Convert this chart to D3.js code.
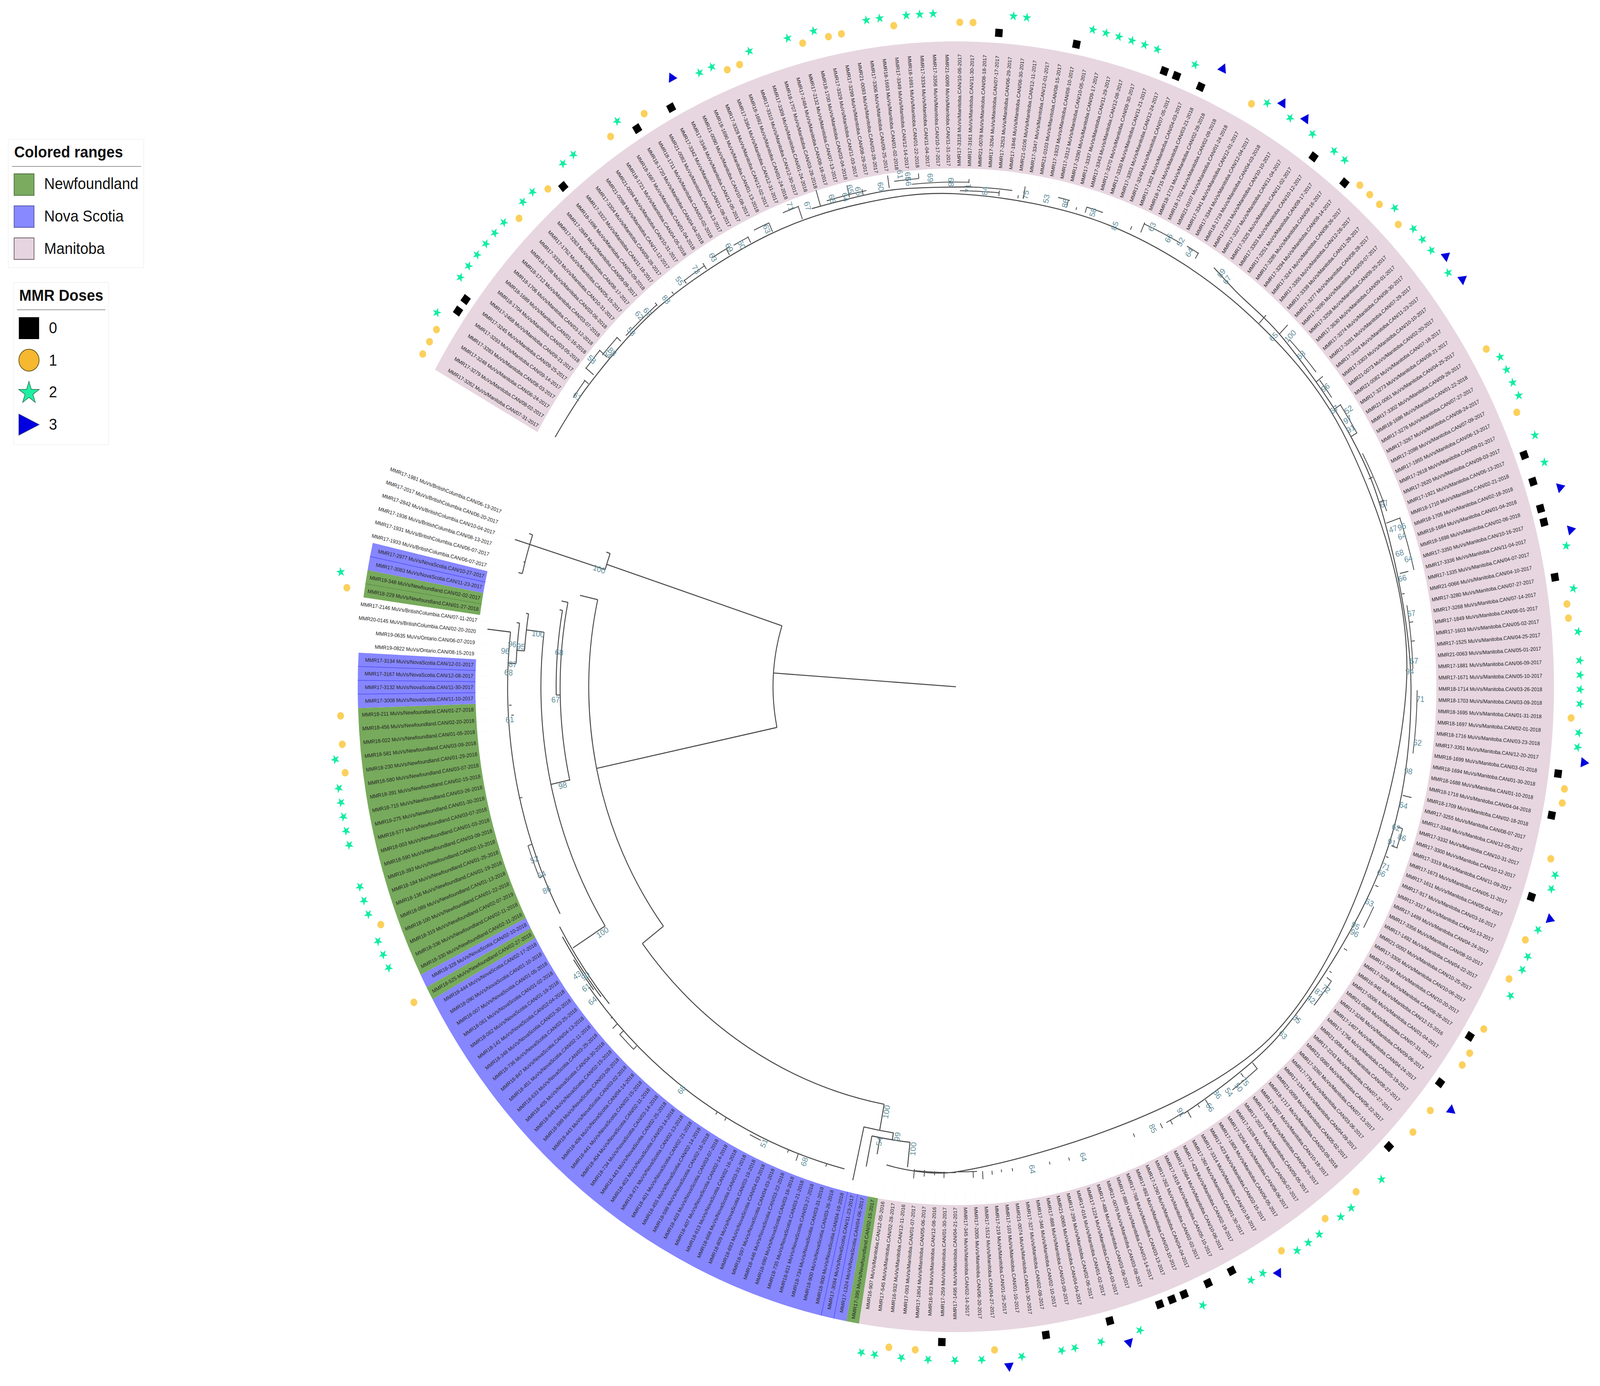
<!DOCTYPE html>
<html lang="en">
<head>
  <meta charset="UTF-8">
  <title>Mumps phylogeny</title>
  <script src="https://cdn.jsdelivr.net/npm/d3@7/dist/d3.min.js"></script>
  <style>
    html, body { margin: 0; padding: 0; width: 100%; height: 100%; background: #fff; overflow: hidden; }
    svg { display: block; }
    text { font-family: "Liberation Sans", Arial, sans-serif; }
  </style>
</head>
<body>
<svg id="tree"></svg>
<script>
// leaves in clockwise order, "id date"
const manitobaLeaves = ["MMR17-3262 07-31-2017","MMR17-3279 08-02-2017","MMR17-3248 06-24-2017","MMR17-3283 08-03-2017","MMR17-3293 09-14-2017","MMR17-3245 09-25-2017","MMR17-2468 09-21-2017","MMR18-1704 03-05-2018","MMR18-1689 01-16-2018","MMR18-1706 03-12-2018","MMR18-1712 03-07-2018","MMR18-1708 03-06-2018","MMR17-3333 10-31-2017","MMR17-1752 05-15-2017","MMR17-3263 08-17-2017","MMR17-2849 09-09-2017","MMR18-1696 02-09-2018","MMR17-3322 11-18-2017","MMR17-3304 09-28-2017","MMR21-0098 11-12-2017","MMR21-0094 10-31-2017","MMR18-1721 04-05-2018","MMR18-1687 01-04-2018","MMR18-1720 04-04-2018","MMR18-1711 03-02-2018","MMR21-0082 09-13-2017","MMR17-3342 11-08-2017","MMR17-3346 12-05-2017","MMR21-0090 10-08-2017","MMR18-1690 01-13-2018","MMR17-3328 12-02-2017","MMR17-3364 12-31-2017","MMR18-1692 01-24-2018","MMR17-3310 12-30-2017","MMR17-3309 01-24-2018","MMR18-1707 03-28-2018","MMR17-2484 08-18-2017","MMR17-2132 07-13-2017","MMR18-1700 03-04-2018","MMR17-3329 11-03-2017","MMR17-3299 08-29-2017","MMR21-0093 03-28-2017","MMR17-3306 09-25-2017","MMR18-1693 01-02-2018","MMR17-3349 12-14-2017","MMR18-1691 01-22-2018","MMR17-3334 11-04-2017","MMR17-3356 10-17-2017","MMR21-0099 11-31-2017","MMR17-3318 10-06-2017","MMR17-3161 11-30-2017","MMR21-0078 08-18-2017","MMR17-3264 07-17-2017","MMR17-3253 06-29-2017","MMR17-1846 06-30-2017","MMR21-0106 12-11-2017","MMR17-3347 12-01-2017","MMR21-0103 08-15-2017","MMR17-1923 08-10-2017","MMR17-3312 10-05-2017","MMR17-3290 09-17-2017","MMR17-3337 11-29-2017","MMR17-3343 12-08-2017","MMR17-3270 09-30-2017","MMR17-3330 11-21-2017","MMR17-3353 12-24-2017","MMR17-3249 07-05-2017","MMR17-1302 04-03-2017","MMR18-1715 03-21-2018","MMR18-1713 02-28-2018","MMR18-1702 02-09-2018","MMR21-0107 01-24-2018","MMR17-3341 12-01-2017","MMR17-3344 12-04-2017","MMR18-1719 04-03-2018","MMR17-3313 10-10-2017","MMR17-3327 11-04-2017","MMR17-3325 11-02-2017","MMR17-3303 10-12-2017","MMR17-3251 09-17-2017","MMR17-3285 09-16-2017","MMR17-3294 09-14-2017","MMR17-3247 08-26-2017","MMR17-3355 12-26-2017","MMR17-3339 11-29-2017","MMR17-3277 08-28-2017","MMR17-2690 09-07-2017","MMR17-3258 09-25-2017","MMR17-3630 09-01-2017","MMR17-3274 08-30-2017","MMR17-3281 07-29-2017","MMR17-3324 11-23-2017","MMR17-3303 10-10-2017","MMR21-0073 02-20-2017","MMR21-0082 07-18-2017","MMR17-3273 08-21-2017","MMR21-0061 04-25-2017","MMR17-3302 09-26-2017","MMR18-1686 01-22-2018","MMR17-3276 07-27-2017","MMR17-3267 08-24-2017","MMR17-2098 07-09-2017","MMR17-1955 06-13-2017","MMR17-2618 09-01-2017","MMR17-2620 09-03-2017","MMR17-1921 06-13-2017","MMR18-1710 02-21-2018","MMR18-1705 02-18-2018","MMR18-1684 01-04-2018","MMR18-1698 02-06-2018","MMR17-3350 10-16-2017","MMR17-3336 11-04-2017","MMR17-1335 04-07-2017","MMR21-0066 04-10-2017","MMR17-3280 07-27-2017","MMR17-3268 07-14-2017","MMR17-1849 06-01-2017","MMR17-1603 05-02-2017","MMR17-1525 04-25-2017","MMR21-0063 05-01-2017","MMR17-1881 06-09-2017","MMR17-1671 05-10-2017","MMR18-1714 03-26-2018","MMR18-1703 03-09-2018","MMR18-1695 01-31-2018","MMR18-1697 02-01-2018","MMR18-1716 03-23-2018","MMR17-3351 12-20-2017","MMR18-1699 03-01-2018","MMR18-1694 01-30-2018","MMR18-1688 01-10-2018","MMR18-1718 04-04-2018","MMR18-1709 02-18-2018","MMR17-3255 08-07-2017","MMR17-3348 12-05-2017","MMR17-3332 10-31-2017","MMR17-3300 10-12-2017","MMR17-3319 11-09-2017","MMR17-1673 05-11-2017","MMR17-1611 05-04-2017","MMR17-917 03-16-2017","MMR17-3317 10-13-2017","MMR17-1499 04-24-2017","MMR17-3356 08-10-2017","MMR17-1492 04-22-2017","MMR21-0092 10-25-2017","MMR17-3305 10-06-2017","MMR17-3297 10-20-2017","MMR17-3258 08-26-2017","MMR16-945 12-15-2016","MMR17-0006 01-04-2017","MMR21-0085 07-31-2017","MMR17-3246 09-06-2017","MMR17-1407 04-24-2017","MMR17-1756 05-19-2017","MMR21-0084 08-27-2017","MMR17-2243 07-27-2017","MMR21-0080 06-22-2017","MMR17-3260 07-13-2017","MMR17-779 03-06-2017","MMR17-1341 04-09-2017","MMR21-0059 05-02-2017","MMR18-1717 03-09-2018","MMR17-3307 10-18-2017","MMR17-3309 09-25-2017","MMR17-2027 09-05-2017","MMR17-1928 06-07-2017","MMR17-3256 08-06-2017","MMR17-1805 06-05-2017","MMR17-423 02-15-2017","MMR17-3314 10-18-2017","MMR17-260 01-30-2017","MMR17-429 02-19-2017","MMR17-2684 10-06-2017","MMR17-1616 05-10-2017","MMR17-262 02-02-2017","MMR17-1290 04-04-2017","MMR17-892 03-10-2017","MMR17-768 03-13-2017","MMR17-880 03-14-2017","MMR21-0070 03-08-2017","MMR17-488 03-06-2017","MMR17-1224 04-03-2017","MMR17-016 01-02-2017","MMR17-299 02-06-2017","MMR21-0065 04-04-2017","MMR17-888 03-09-2017","MMR17-346 02-10-2017","MMR17-327 02-08-2017","MMR21-0074 01-30-2017","MMR17-103 01-10-2017","MMR17-219 01-25-2017","MMR17-1512 04-27-2017","MMR17-2005 06-20-2017","MMR17-345 02-14-2017","MMR17-1495 04-21-2017","MMR17-259 01-30-2017","MMR16-923 12-08-2016","MMR17-1804 05-06-2017","MMR17-093 01-07-2017","MMR16-932 12-11-2016","MMR17-545 02-28-2017","MMR16-907 12-05-2016"];
const newfoundlandBottom = ["MMR17-395 02-15-2017"];
const novaScotiaBottom = ["MMR17-1324 04-06-2017","MMR17-3084 11-23-2017","MMR18-900 04-19-2018","MMR18-900 03-26-2018","MMR18-734 03-31-2018","MMR18-811 03-27-2018","MMR18-735 03-21-2018","MMR18-690 03-18-2018","MMR18-446 03-22-2018","MMR18-597 04-03-2018","MMR18-693 04-03-2018","MMR18-809 03-19-2018","MMR18-668 03-31-2018","MMR18-613 02-16-2018","MMR18-407 02-14-2018","MMR18-403 03-07-2018","MMR18-599 02-16-2018","MMR18-455 02-14-2018","MMR18-401 02-21-2018","MMR18-471 02-13-2018","MMR18-402 03-14-2018","MMR18-443 02-25-2018","MMR18-734 03-14-2018","MMR18-404 02-11-2018","MMR18-441 02-15-2018","MMR18-406 04-14-2018","MMR18-443 03-02-2018","MMR18-599 03-09-2018","MMR18-645 02-15-2018","MMR18-405 04-30-2018","MMR18-633 03-25-2018","MMR18-451 02-11-2018","MMR18-847 04-13-2018","MMR18-736 03-25-2018","MMR18-348 03-30-2018","MMR18-141 02-04-2018","MMR18-062 01-19-2018","MMR18-061 01-02-2018","MMR18-007 01-05-2018","MMR18-090 01-10-2018","MMR18-444 02-17-2018"];
const newfoundlandSingle = ["MMR18-525 02-27-2018"];
const novaScotiaSingle = ["MMR18-328 02-10-2018"];
const newfoundlandLeft = ["MMR18-330 02-11-2018","MMR18-336 02-11-2018","MMR18-319 02-07-2019","MMR18-100 01-22-2018","MMR18-089 01-13-2018","MMR18-136 01-19-2018","MMR18-184 01-25-2018","MMR18-393 02-15-2018","MMR18-590 03-09-2018","MMR18-003 01-03-2018","MMR18-577 03-07-2018","MMR18-275 01-30-2018","MMR18-715 03-26-2018","MMR18-391 02-15-2018","MMR18-580 03-07-2018","MMR18-230 01-29-2018","MMR18-581 03-09-2018","MMR18-022 01-05-2018","MMR18-456 02-20-2018","MMR18-211 01-27-2018"];
const novaScotiaLeft = ["MMR17-3008 11-10-2017","MMR17-3132 11-30-2017","MMR17-3167 12-08-2017","MMR17-3134 12-01-2017"];
const ontarioAndBc = [["MMR19-0822","Ontario","08-15-2019"],["MMR19-0635","Ontario","06-07-2019"],["MMR20-0145","BritishColumbia","02-20-2020"],["MMR17-2146","BritishColumbia","07-11-2017"]];
const newfoundlandUpper = ["MMR18-229 01-27-2018","MMR19-348 02-02-2017"];
const novaScotiaUpper = ["MMR17-3083 11-23-2017","MMR17-2977 10-27-2017"];
const bcLeaves = ["MMR17-1933 06-07-2017","MMR17-1931 06-07-2017","MMR17-1936 08-13-2017","MMR17-2842 10-04-2017","MMR17-2017 06-20-2017","MMR17-1981 06-13-2017"];

// MMR doses, leaf positions in the same clockwise order
const dose0Leaves = [4,5,16,23,26,52,58,65,66,68,78,81,105,107,109,110,114,128,131,137,148,152,158,173,175,177,178,179,183,188,196];
const dose1Leaves = [0,1,2,12,15,21,24,31,32,37,39,40,44,49,50,72,82,83,84,86,97,102,116,117,124,129,130,134,140,143,147,149,150,154,156,162,165,169,192,198,200,245,251,262,264,266,275];
const dose2Leaves = [3,6,7,8,9,10,11,13,14,17,18,22,29,30,33,36,38,42,43,45,46,47,53,54,59,60,61,62,63,64,67,73,75,77,79,80,85,87,88,89,91,98,99,100,101,104,106,112,115,118,120,121,122,123,125,126,135,136,139,141,142,144,160,163,164,166,167,168,171,172,176,181,184,186,187,190,193,195,197,199,201,202,248,249,250,252,253,254,257,258,259,260,261,263,276];
const dose3Leaves = [27,69,74,76,90,92,108,111,127,138,153,170,182,191];

// tree: clockwise degrees and branch depth
const trunkArcs = [[50.5,168.1,198],[101.4,197.2,199.65],[123.2,193.6,198.4],[101.4,142.8,192.7],[109.3,167.3,191.4],[110.4,178.9,190.2],[114.6,147.7,187],[119.5,184.4,189],[121.6,182.8,187.7],[123.8,152,186.5],[108.7,100.5,142.8],[115.5,98.6,102.7],[117.3,96.2,101.4],[125.5,139.7,150.7],[126.1,141,149.5],[126.6,142.2,146.5],[127.2,104,142.8]];
const trunkRadials = [[184,0,50.5],[198,50.5,101.4],[197.2,101.4,127.5],[199.65,101.4,102.5],[198.4,123.2,124.2],[193.6,123.2,124.3],[195,123.2,123.6],[168.1,50.5,101.4],[192.7,101.4,106.4],[142.8,101.4,108.7],[191.4,109.3,111.1],[190.2,110.4,111.2],[178.9,109.2,110.4],[167.4,109.3,114.6],[187,114.6,119.6],[147.7,114.6,125.1],[189,119.5,120.2],[184.4,119.5,121.6],[187.7,121.6,122.4],[182.8,121.6,123.8],[186.5,123.8,130.2],[100.5,108.7,115.4],[102.7,115.4,129.5],[98.6,115.4,117.3],[101.4,117.3,125.3],[100.3,117.3,121.6],[96.2,117.3,123.7]];
const spineAAngles = [210,217,230,246,258,270,290,310,330,360,405,450,458.9];
const spineADepths = [127.8,127.5,127.2,126.7,126.4,126.2,125.5,125,125,124.4,125,124.2,123.9];
const spineBAngles = [303.6,307.3,315,330,340,360,380,405,420];
const spineBDepths = [128.8,127.4,127,126.5,125.8,125.7,126.2,126.2,126.1];
const spineCAngles = [252,262,272];
const spineCDepths = [128.7,128.4,128];
const twigArcs = [[129,215,217.4],[130.7,218.6,221.2],[129.4,221,223.7],[128,224.6,229.8],[128.2,234.2,237.2],[128.8,238.5,241],[128.6,241.5,243.5],[129.5,244.5,246.5],[130.4,248.5,250.5],[129.4,254,259],[130.5,262.5,265.5],[129.2,264.6,271.6],[128,271,277],[127,270.5,275.4],[128.4,282.7,284.2],[128,286.4,288.5],[129.4,293.7,298.7],[129.6,299.5,301.1],[128,316,321],[127.5,322,324.5],[128.4,325.8,329.6],[127.2,332,339.3],[130,340.6,346.7],[126.3,350.5,357.9],[127.4,360.4,367.7],[128.6,376.4,378.7],[128.4,386,388.7],[128.2,396,399.5],[128.4,409.6,413.5],[125.8,420,422.5],[124.4,450,455.3],[124.2,447.3,450],[128,474.9,476.4],[128.6,493.8,496.2],[125,517,521]];
const twigRadials = [[217.4,127.7,129.3],[218.6,128,130.9],[221.2,128,130.9],[223.7,128,129.6],[229.8,127.7,128.7],[232.2,127.3,128],[234.2,127.3,128.4],[237.2,127.2,129],[240.5,127,128.8],[243.5,127,128.8],[246.5,127,129.5],[250.5,127,130.6],[253.1,128.7,132.9],[256.8,128.7,131.8],[258.5,128.5,130],[261.8,129,132.2],[265.5,130.5,131.8],[271.6,129,130],[275.4,126.2,127.6],[277.8,126.2,127],[278.5,126.3,129.5],[284,126.5,128.4],[285.2,126.5,127.2],[286.4,126.5,128],[292.4,126.5,127.5],[293.7,127,129.8],[301.1,128,129.8],[312,125.2,128],[314.7,127,130.3],[321.9,126.5,128.8],[325.8,126.5,128.6],[329.6,126.5,128.5],[335,125.8,127],[338,126,127.5],[340.6,126,130.2],[346.7,126,128.4],[349.1,125.5,126.2],[352.5,126.4,127.4],[354.7,126.4,127.3],[372.7,126.5,129],[376.4,127,128.6],[378.7,127,128.8],[380.1,126.5,127.2],[383.7,126.5,127.4],[392,126.4,127.4],[395.2,126.3,127],[396,126.6,128.2],[402,126.4,127.4],[409.6,126.4,128.5],[411.5,126.4,127.6],[416.9,126.2,128.6],[418,126.2,127],[419.5,125.9,128],[421.9,125.8,127],[423.2,125.2,126.6],[426.8,124.4,125.4],[435.5,124.5,125.3],[438,124.3,125],[442.8,124.2,125],[444.2,124.2,124.9],[445.4,124.3,125.3],[446.6,124.2,126.3],[447.8,124.2,125.8],[451.5,124.2,125.8],[452.7,124.2,125.2],[454,124,125.7],[455.3,124,126.4],[466.3,127.2,128],[470,127.2,129.1],[471.3,127.2,128],[479.9,127.2,128.1],[481.2,127.2,128],[493.8,127.4,128.6],[496.2,127.3,128.7],[497.3,127.3,129],[498.3,127,127.6],[517,123.8,125],[521,123.8,125],[526.7,123,124],[537.8,122.8,123.5],[536.6,122.3,123]];

// bootstrap support: clockwise degrees, depth, value
const supportLabels = [[197,103,100],[186.7,116.2,100],[185.1,123,96],[184.2,124.8,96],[184.9,120.6,95],[182.7,122.5,87],[181.7,123.6,68],[184.6,109.9,68],[178.3,110.6,67],[176.1,123.5,61],[166.9,111.5,98],[159.2,124.5,52],[157.2,124.1,64],[155.3,124.4,86],[147.2,116.1,100],[144.8,128.1,43],[144.1,126.3,90],[143,127.9,61],[141.3,128.6,64],[126.3,128,68],[114.4,128.3,51],[109,128.6,68],[100,110.5,100],[98,116.3,99],[100.3,118.3,54],[95.7,118.9,100],[80.3,125.3,64],[73.7,125.4,64],[64.3,125.5,85],[60.3,125.4,91],[56.9,128.5,66],[55.3,126.9,86],[54,128.3,54],[52.7,128.9,50],[51.7,128.8,75],[44.6,126.9,63],[42.1,126.9,65],[39.2,126.6,42],[38,127.2,87],[37.1,128.2,72],[29,126.2,95],[29.8,126.9,96],[25.8,126.9,63],[22.1,126.8,66],[21.2,127.4,71],[18.3,126.8,91],[17.4,129.1,86],[16.5,126.8,62],[13.8,127.3,64],[9.8,126.8,98],[6.4,128.3,62],[1.4,128.3,71],[358.2,125.4,94],[357,126.7,67],[351.5,127.2,67],[347.3,126.4,66],[345.3,129.2,64],[344.4,127.2,68],[342.6,129.1,64],[341.6,129.8,96],[341.5,127.3,47],[338.4,127.2,67],[328.8,127.5,91],[327.7,128,97],[326.8,129.6,52],[325.8,126.3,67],[323.1,127.6,96],[318.3,127.7,63],[315.8,128.8,100],[314.4,125.4,65],[305.7,128.3,67],[304.7,128.8,89],[300.1,128.5,64],[298.6,129.7,52],[297.1,129,66],[294.7,129.6,63],[290.4,125.9,85],[287.3,127.2,58],[283.7,127.4,86],[281.3,127.4,53],[278.7,127.4,75],[273.6,127.2,84],[271.5,127.6,71],[269.4,129.2,68],[266.9,130.5,69],[264.2,130,66],[264.2,131.3,65],[263.3,132.1,61],[260.8,129.7,60],[258,129.7,65],[257.1,130.7,65],[256.3,129,64],[254.7,129.5,65],[251.6,129.7,67],[249.6,131.2,71],[246,128.3,63],[240.9,128.7,69],[242.4,127.7,60],[238.6,128.8,63],[236.1,128.7,73],[233.7,128.9,55],[231.1,127.4,88],[228.4,128.3,62],[227.4,129.2,62],[225.4,127.7,58],[222.1,127.9,88],[221.5,128.5,54],[219.8,130.9,58],[215.4,128.3,61]];

const rangeLegend = ["Newfoundland","Nova Scotia","Manitoba"];
const doseLegend = ["0","1","2","3"];

const width = 4419, height = 3548;
const cx = 2640, cy = 1758;
const ringInner = 1327, ringOuter = 1652, labelRadius = 1333;
const doseRadius = {0: 1678, 1: 1701, 2: 1724, 3: 1745};
const fills = {Newfoundland: "#77aa5c", NovaScotia: "#8686ff", Manitoba: "#e7d6e0"};
const lineColor = "#4a4a4a";
const toRad = d => d * Math.PI / 180;

const leaves = [];
function addLeaves(list, prov) {
  list.forEach(s => {
    const [id, date] = s.split(" ");
    leaves.push({id, prov, date});
  });
}
addLeaves(manitobaLeaves, "Manitoba");
addLeaves(newfoundlandBottom, "Newfoundland");
addLeaves(novaScotiaBottom, "NovaScotia");
addLeaves(newfoundlandSingle, "Newfoundland");
addLeaves(novaScotiaSingle, "NovaScotia");
addLeaves(newfoundlandLeft, "Newfoundland");
addLeaves(novaScotiaLeft, "NovaScotia");
ontarioAndBc.forEach(([id, prov, date]) => leaves.push({id, prov, date}));
addLeaves(newfoundlandUpper, "Newfoundland");
addLeaves(novaScotiaUpper, "NovaScotia");
addLeaves(bcLeaves, "BritishColumbia");

const angle = d3.scaleLinear().domain([0, leaves.length - 1]).range([210.05, 559.65]);
const halfStep = (angle(1) - angle(0)) / 2;
const depth = d3.scaleLinear().domain([0, 165.2]).range([0, ringOuter]);

// the browser window can be narrower than the 4419 wide drawing, so fill whatever it gives
const svg = d3.select("#tree")
  .attr("width", window.innerWidth).attr("height", window.innerHeight)
  .attr("viewBox", `0 0 ${width} ${height}`).attr("preserveAspectRatio", "none");
svg.append("rect").attr("width", width).attr("height", height).attr("fill", "#fff");
const g = svg.append("g").attr("transform", `translate(${cx},${cy})`);

// coloured ranges
const ringArc = d3.arc().innerRadius(ringInner).outerRadius(ringOuter);
const runs = [];
leaves.forEach((d, i) => {
  if (!fills[d.prov]) return;
  const last = runs[runs.length - 1];
  if (last && last.prov === d.prov && last.end === i - 1) last.end = i;
  else runs.push({prov: d.prov, start: i, end: i});
});
g.append("g").selectAll("path").data(runs).join("path")
  .attr("d", d => ringArc({startAngle: toRad(angle(d.start) - halfStep + 90), endAngle: toRad(angle(d.end) + halfStep + 90)}))
  .attr("fill", d => fills[d.prov]);

// thin borders between neighbouring ranges of one colour
const rangeSplits = [[204,"#4c4cf2"],[205,"#4c4cf2"],[267,"#4c4cf2"],[268,"#4c4cf2"],[269,"#4c4cf2"],[277,"#4c4cf2"],[275,"#5c8f44"]];
g.append("g").selectAll("line").data(rangeSplits).join("line")
  .attr("transform", d => `rotate(${angle(d[0]) + halfStep})`)
  .attr("x1", ringInner).attr("x2", ringOuter)
  .attr("stroke", d => d[1]).attr("stroke-width", 1.5);

// faint leader dots
g.append("g").selectAll("line").data(leaves).join("line")
  .attr("transform", (d, i) => `rotate(${angle(i)})`)
  .attr("x1", 1295).attr("x2", ringInner)
  .attr("stroke", "#e6e6e6").attr("stroke-width", 1).attr("stroke-dasharray", "2 7");

// tree
const treeG = g.append("g").attr("fill", "none").attr("stroke", lineColor);
function arcPath(d) {
  const p = d3.path();
  p.arc(0, 0, depth(d[0]), toRad(Math.min(d[1], d[2])), toRad(Math.max(d[1], d[2])));
  return p.toString();
}
function radialPath(d) {
  const p = d3.path(), a = toRad(d[0]);
  p.moveTo(depth(d[1]) * Math.cos(a), depth(d[1]) * Math.sin(a));
  p.lineTo(depth(d[2]) * Math.cos(a), depth(d[2]) * Math.sin(a));
  return p.toString();
}
treeG.selectAll(".trunkArc").data(trunkArcs).join("path").attr("class", "trunkArc").attr("d", arcPath).attr("stroke-width", 2.6);
treeG.selectAll(".trunkRadial").data(trunkRadials).join("path").attr("class", "trunkRadial").attr("d", radialPath).attr("stroke-width", 2.6);
treeG.selectAll(".twigArc").data(twigArcs).join("path").attr("class", "twigArc").attr("d", arcPath).attr("stroke-width", 2.2);
treeG.selectAll(".twigRadial").data(twigRadials).join("path").attr("class", "twigRadial").attr("d", radialPath).attr("stroke-width", 2.2);

const spineLine = d3.lineRadial().curve(d3.curveCatmullRom)
  .angle(d => toRad(d[0] + 90)).radius(d => depth(d[1]));
[[spineAAngles, spineADepths], [spineBAngles, spineBDepths], [spineCAngles, spineCDepths]].forEach(([as, ds]) => {
  treeG.append("path").attr("d", spineLine(d3.zip(as, ds))).attr("stroke-width", 2.6);
});

// radial text helper: flips on the left half so it stays readable
function isLeft(a) {
  const m = ((a % 360) + 360) % 360;
  return m > 90 && m < 270;
}

// bootstrap values
g.append("g").selectAll("text").data(supportLabels).join("text")
  .attr("transform", d => `rotate(${d[0]}) translate(${depth(d[1])},0) rotate(${isLeft(d[0]) ? 180 : 0})`)
  .attr("text-anchor", "middle").attr("dy", "0.35em")
  .attr("font-size", 21).attr("fill", "#5f8d9b")
  .text(d => d[2]);

// leaf labels
g.append("g").selectAll("text").data(leaves).join("text")
  .attr("transform", (d, i) => {
    const a = angle(i);
    return `rotate(${a}) translate(${labelRadius},0)` + (isLeft(a) ? " rotate(180)" : "");
  })
  .attr("text-anchor", (d, i) => isLeft(angle(i)) ? "end" : "start")
  .attr("dy", "0.35em")
  .attr("font-size", 13.6).attr("fill", "#262626")
  .text(d => `${d.id} MuVs/${d.prov}.CAN/${d.date}`);

// dose symbols
const squareSym = d3.symbol().type(d3.symbolSquare).size(420)();
const circleSym = d3.symbol().type(d3.symbolCircle).size(290)();
const starSym = d3.symbol().type(d3.symbolStar).size(190)();
const triSym = d3.symbol().type(d3.symbolTriangle).size(300)();
const doseSets = [
  {dose: 0, leaves: dose0Leaves, path: squareSym, fill: "#000", turn: 0},
  {dose: 1, leaves: dose1Leaves, path: circleSym, fill: "#fbd05c", turn: 0},
  {dose: 2, leaves: dose2Leaves, path: starSym, fill: "#12eda0", turn: 90},
  {dose: 3, leaves: dose3Leaves, path: triSym, fill: "#0000dc", turn: 90}
];
doseSets.forEach(s => {
  g.append("g").selectAll("path").data(s.leaves).join("path")
    .attr("d", s.path).attr("fill", s.fill)
    .attr("transform", i => `rotate(${angle(i)}) translate(${doseRadius[s.dose]},0) rotate(${s.turn})`);
});

// legends
const legendA = svg.append("g");
legendA.append("rect").attr("x", 23).attr("y", 357).attr("width", 374).attr("height", 328).attr("fill", "#fff").attr("stroke", "#f3f3f3").attr("stroke-width", 2);
legendA.append("text").attr("x", 39).attr("y", 403).attr("font-size", 41).attr("font-weight", "bold").attr("fill", "#111").text("Colored ranges");
legendA.append("line").attr("x1", 33).attr("x2", 390).attr("y1", 426).attr("y2", 426).attr("stroke", "#999").attr("stroke-width", 2);
const rangeSwatch = ["#7aab5f", "#8888ff", "#e6d5e0"];
const rangeStroke = ["#4f6f3f", "#5558a8", "#6d6167"];
rangeLegend.forEach((name, i) => {
  legendA.append("rect").attr("x", 39).attr("y", 445 + i * 82).attr("width", 55).attr("height", 55)
    .attr("fill", rangeSwatch[i]).attr("stroke", rangeStroke[i]).attr("stroke-width", 2);
  legendA.append("text").attr("x", 122).attr("y", 484 + i * 83).attr("font-size", 40.7).attr("fill", "#111").text(name);
});

const legendB = svg.append("g");
legendB.append("rect").attr("x", 38).attr("y", 723).attr("width", 262).attr("height", 415).attr("fill", "#fff").attr("stroke", "#f3f3f3").attr("stroke-width", 2);
legendB.append("text").attr("x", 53).attr("y", 770).attr("font-size", 41).attr("font-weight", "bold").attr("fill", "#111").text("MMR Doses");
legendB.append("line").attr("x1", 47).attr("x2", 291).attr("y1", 793).attr("y2", 793).attr("stroke", "#999").attr("stroke-width", 2);
legendB.append("rect").attr("x", 52).attr("y", 812).attr("width", 56).attr("height", 56).attr("fill", "#000");
legendB.append("circle").attr("cx", 80).attr("cy", 922).attr("r", 28).attr("fill", "#f5b82e").attr("stroke", "#6b5a20").attr("stroke-width", 2);
legendB.append("path").attr("d", d3.symbol().type(d3.symbolStar).size(1000)()).attr("transform", "translate(80,1006)").attr("fill", "#1df0a2").attr("stroke", "#2e6b52").attr("stroke-width", 1.5);
legendB.append("path").attr("d", d3.line()([[52,1060],[108,1087],[52,1114]]) + "Z").attr("fill", "#0000e0").attr("stroke", "#333a88").attr("stroke-width", 1.5);
const doseBase = [853, 936, 1017, 1100];
doseLegend.forEach((name, i) => {
  legendB.append("text").attr("x", 135).attr("y", doseBase[i]).attr("font-size", 40.7).attr("fill", "#111").text(name);
});
</script>
</body>
</html>
